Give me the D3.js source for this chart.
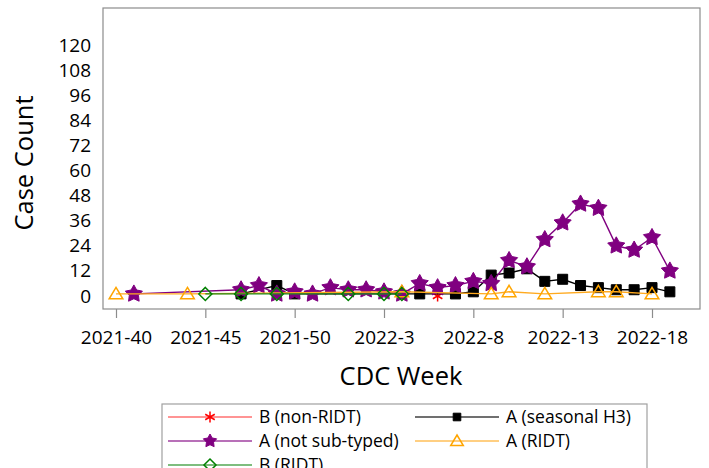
<!DOCTYPE html>
<html>
<head>
<meta charset="utf-8">
<script src="https://cdn.jsdelivr.net/npm/d3@7"></script>
<style>
  html, body { margin: 0; padding: 0; background: #fff; }
  svg { display: block; font-family: "Open Sans", "Noto Sans", sans-serif; }
</style>
</head>
<body>
<svg id="chart" width="709" height="468"></svg>
<script>
// ---- Data ----
const weeks = ["2021-40","2021-41","2021-42","2021-43","2021-44","2021-45","2021-46","2021-47","2021-48","2021-49",
  "2021-50","2021-51","2021-52","2022-1","2022-2","2022-3","2022-4","2022-5","2022-6","2022-7",
  "2022-8","2022-9","2022-10","2022-11","2022-12","2022-13","2022-14","2022-15","2022-16","2022-17",
  "2022-18","2022-19"];
const xTickLabels = ["2021-40","2021-45","2021-50","2022-3","2022-8","2022-13","2022-18"];
const yTickValues = [0,12,24,36,48,60,72,84,96,108,120];

const _ = null;
// index:            0 1 2 3 4 5 6 7 8 9 10 11 12 13 14 15 16 17 18 19 20 21 22 23 24 25 26 27 28 29 30 31
const bNonRIDT   = [_,_,_,_,_,_,_,_,_,_, _, _, _, _, _, _, _, _, 0, _, _, _, _, _, _, _, _, _, _, _, _, _];
const aSeasonalH3= [_,_,_,_,_,_,_,1,_,5, 1, _, _, _, _, _, _, 1, _, 1, 2,10,11,13, 7, 8, 5, 4, 3, 3, 4, 2];
const aNotSub    = [_,1,_,_,_,_,_,3,5,1, 2, 1, 4, 3, 3, 2, 1, 6, 4, 5, 7, 6,17,14,27,35,44,42,24,22,28,12];
const aRIDT      = [1,_,_,_,1,_,_,_,_,_, _, _, _, _, _, _, 2, _, _, _, _, 1, 2, _, 1, _, _, 2, 2, _, 1, _];
const bRIDT      = [_,_,_,_,_,1,_,1,_,1, _, _, _, 1, _, 1, 1, _, _, _, _, _, _, _, _, _, _, _, _, _, _, _];

const seriesNames = ["B (non-RIDT)","A (seasonal H3)","A (not sub-typed)","A (RIDT)","B (RIDT)"];

// ---- Setup ----
const svg = d3.select("#chart");
const frame = {left: 103, top: 8, right: 700, bottom: 309};

const x = d3.scaleLinear().domain([0, 30]).range([116, 652]);
const y = d3.scaleLinear().domain([0, 120]).range([296, 45]);

function starPath(R, r) {
  let p = "";
  for (let k = 0; k < 10; k++) {
    const rad = k % 2 === 0 ? R : r;
    const a = -Math.PI / 2 + k * Math.PI / 5;
    p += (k === 0 ? "M" : "L") + (rad * Math.cos(a)).toFixed(2) + "," + (rad * Math.sin(a)).toFixed(2);
  }
  return p + "Z";
}
function asteriskPath(s) {
  let p = "";
  for (let k = 0; k < 3; k++) {
    const a = Math.PI / 2 + k * Math.PI / 3;
    const dx = s * Math.cos(a), dy = s * Math.sin(a);
    p += `M${(-dx).toFixed(2)},${(-dy).toFixed(2)}L${dx.toFixed(2)},${dy.toFixed(2)}`;
  }
  return p;
}
function squarePath(s) { return `M${-s},${-s}H${s}V${s}H${-s}Z`; }
function trianglePath(s) { return `M0,${-s}L${s*1.05},${s*0.75}L${-s*1.05},${s*0.75}Z`; }
function diamondPath(s) { return `M0,${-s}L${s},0L0,${s}L${-s},0Z`; }

const styles = [
  {values: bNonRIDT,    lineColor: "#ff4040", marker: () => asteriskPath(5.5), fill: "none", stroke: "#ff0000", lmarker: () => asteriskPath(5.5)},
  {values: aSeasonalH3, lineColor: "#000000", marker: () => squarePath(5), fill: "#000", stroke: "#000", lmarker: () => squarePath(3.8)},
  {values: aNotSub,     lineColor: "#800080", marker: () => starPath(9, 4.8), fill: "#800080", stroke: "#800080", lmarker: () => starPath(7, 3.7)},
  {values: aRIDT,       lineColor: "#ffaa20", marker: () => trianglePath(6.5), fill: "none", stroke: "#ffa500", lmarker: () => trianglePath(6)},
  {values: bRIDT,       lineColor: "#1a8a1a", marker: () => diamondPath(6.5), fill: "none", stroke: "#008000", lmarker: () => diamondPath(6)}
];

// ---- Frame ----
svg.append("rect")
  .attr("x", frame.left).attr("y", frame.top)
  .attr("width", frame.right - frame.left).attr("height", frame.bottom - frame.top)
  .attr("fill", "none").attr("stroke", "#8c8c8c").attr("stroke-width", 1.2);

// ---- Axes ----
const yAxis = d3.axisLeft(y).tickValues(yTickValues).tickSize(0).tickPadding(12);
const gy = svg.append("g").attr("transform", `translate(${frame.left},0)`).call(yAxis);
gy.select(".domain").remove();
gy.selectAll("text").attr("font-size", 19).attr("fill", "#000").attr("font-family", "Open Sans");

const xTickIdx = xTickLabels.map(l => weeks.indexOf(l));
const xAxis = d3.axisBottom(x).tickValues(xTickIdx).tickFormat(i => weeks[i]).tickSize(9).tickPadding(13);
const gx = svg.append("g").attr("transform", `translate(0,${frame.bottom})`).call(xAxis);
gx.select(".domain").remove();
gx.selectAll(".tick line").attr("stroke", "#8c8c8c").attr("stroke-width", 1.2);
gx.selectAll("text").attr("font-size", 19).attr("fill", "#000").attr("font-family", "Open Sans");

svg.append("text").attr("x", 401).attr("y", 385).attr("text-anchor", "middle")
  .attr("font-size", 25.5).attr("fill", "#000").text("CDC Week");
svg.append("text").attr("transform", "translate(33,163) rotate(-90)").attr("text-anchor", "middle")
  .attr("font-size", 25.5).attr("fill", "#000").text("Case Count");

// ---- Series ----
const plot = svg.append("g");
styles.forEach((st) => {
  const pts = st.values.map((v, i) => ({i, v})).filter(d => d.v !== null);
  const line = d3.line().x(d => x(d.i)).y(d => y(d.v));
  if (pts.length > 1) {
    plot.append("path").attr("d", line(pts)).attr("fill", "none")
      .attr("stroke", st.lineColor).attr("stroke-width", 1.4);
  }
  plot.selectAll(null).data(pts).enter().append("path")
    .attr("transform", d => `translate(${x(d.i)},${y(d.v)})`)
    .attr("d", st.marker())
    .attr("fill", st.fill).attr("stroke", st.stroke)
    .attr("stroke-width", st.fill === "none" ? 1.5 : 1);
});

// ---- Legend ----
const legend = svg.append("g");
legend.append("rect").attr("x", 162).attr("y", 404).attr("width", 485).attr("height", 90)
  .attr("fill", "#fff").attr("stroke", "#a0a0a0").attr("stroke-width", 1.2);
const legendPos = [
  {x0: 168, row: 0}, {x0: 415, row: 0},
  {x0: 168, row: 1}, {x0: 415, row: 1},
  {x0: 168, row: 2}
];
styles.forEach((st, k) => {
  const p = legendPos[k];
  const cy = 417 + p.row * 24;
  legend.append("line").attr("x1", p.x0).attr("x2", p.x0 + 84).attr("y1", cy).attr("y2", cy)
    .attr("stroke", st.lineColor).attr("stroke-width", 1.4).attr("stroke-opacity", 0.75);
  legend.append("path").attr("transform", `translate(${p.x0 + 42},${cy})`).attr("d", st.lmarker())
    .attr("fill", st.fill).attr("stroke", st.stroke).attr("stroke-width", st.fill === "none" ? 1.5 : 1);
  legend.append("text").attr("x", p.x0 + 91).attr("y", cy).attr("dy", "0.35em")
    .attr("font-size", 17.5).attr("fill", "#000").text(seriesNames[k]);
});
</script>
</body>
</html>
